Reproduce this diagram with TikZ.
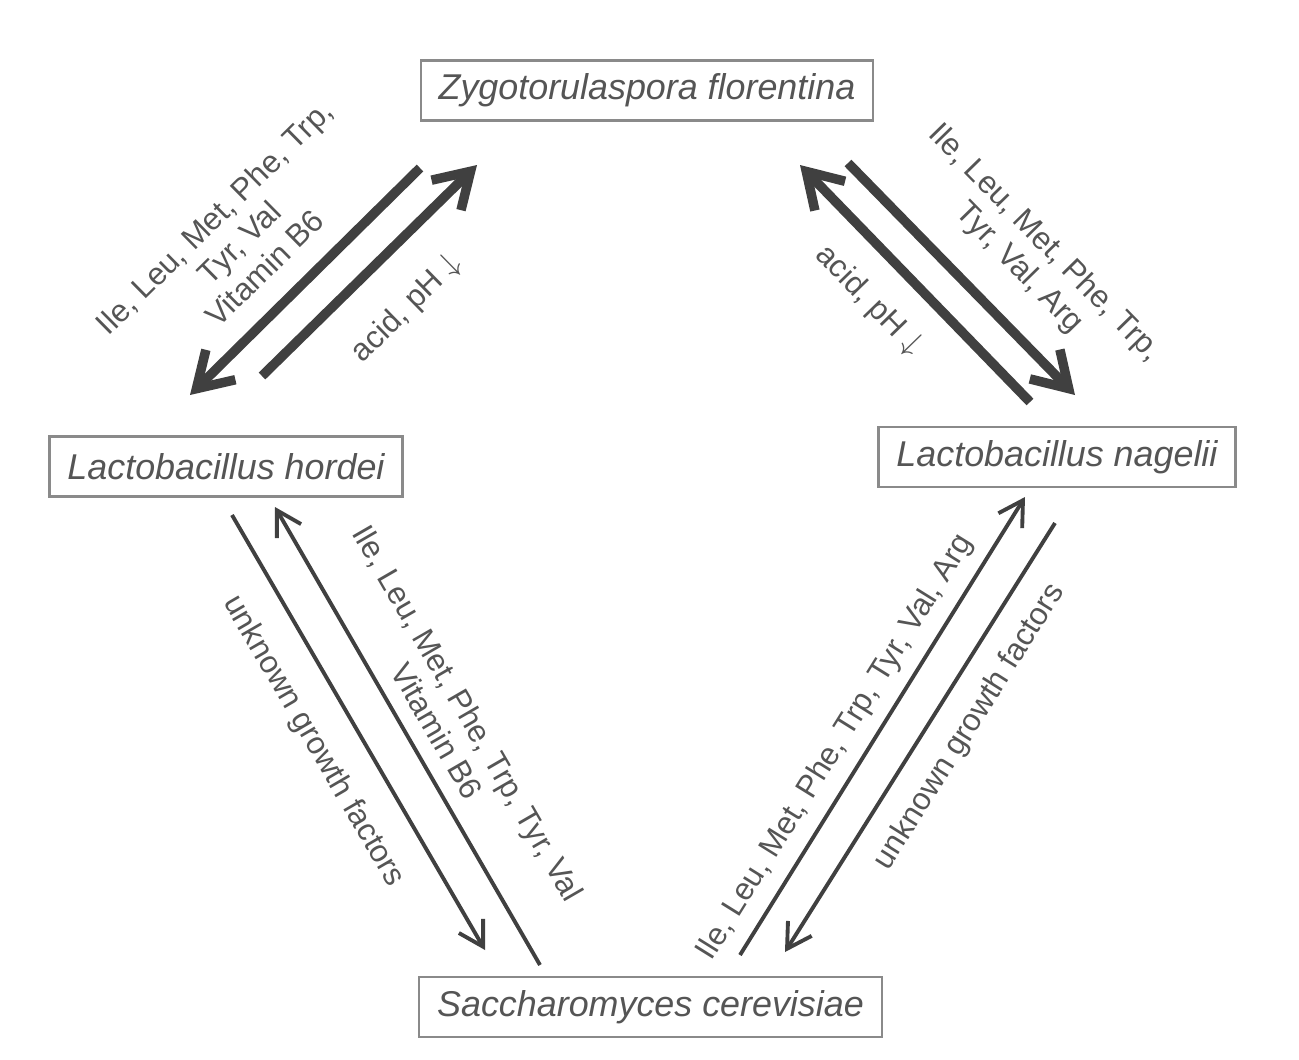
\documentclass[tikz,border=0pt]{standalone}
\usepackage{fontspec}
\setmainfont{Liberation Sans}
\usepackage{tikz}
\usetikzlibrary{arrows.meta}
\definecolor{arrgray}{HTML}{404040}
\definecolor{boxgray}{HTML}{8A8A8A}
\definecolor{txtgray}{HTML}{555555}

\begin{document}
\begin{tikzpicture}[x=0.01cm,y=-0.01cm,
  species/.style={draw=boxgray, line width=0.6pt, minimum height=0.6cm,
    inner xsep=0.18cm, text=txtgray, font=\fontsize{10.2}{12}\selectfont\itshape},
  bigarr/.style={draw=arrgray, line width=2.7pt,
    -{Straight Barb[length=0.34cm,width=0.42cm]}},
  thinarr/.style={draw=arrgray, line width=1.1pt,
    -{Straight Barb[length=0.24cm,width=0.28cm]}},
  lbl/.style={sloped, inner sep=0pt, align=center, text=txtgray,
    font=\fontsize{8.9}{10.2}\selectfont}]
\useasboundingbox (0,0) rectangle (1299,1060);
%
\node[species] (zf) at (647,90.5) {Zygotorulaspora florentina};
\node[species] (lh) at (226,466.5) {Lactobacillus hordei};
\node[species] (ln) at (1057,457) {Lactobacillus nagelii};
\node[species] (sc) at (650.5,1007) {Saccharomyces cerevisiae};
%
\coordinate (zh1) at (420,168);  \coordinate (zh2) at (190,395);
\coordinate (hz1) at (262,376);  \coordinate (hz2) at (477,165);
\coordinate (nz1) at (1030,402); \coordinate (nz2) at (800,165);
\coordinate (zn1) at (848,163);  \coordinate (zn2) at (1075,395);
\coordinate (hs1) at (232,515);  \coordinate (hs2) at (485,950);
\coordinate (sh1) at (540,965);  \coordinate (sh2) at (275,507);
\coordinate (sn1) at (740,955);  \coordinate (sn2) at (1025,497);
\coordinate (ns1) at (1055,523); \coordinate (ns2) at (785,952);

\draw[bigarr] (zh1) -- (zh2) node[lbl, pos=0.56, above=0.22cm]
  {Ile, Leu, Met, Phe, Trp,\\Tyr, Val\\Vitamin B6};
\draw[bigarr] (hz1) -- (hz2) node[lbl, pos=0.5, below=0.34cm] {acid, pH $\downarrow$};
\draw[bigarr] (nz1) -- (nz2) node[lbl, pos=0.56, below=0.26cm] {acid, pH $\downarrow$};
\draw[bigarr] (zn1) -- (zn2) node[lbl, pos=0.6, above=0.29cm]
  {Ile, Leu, Met, Phe, Trp,\\Tyr, Val, Arg};

\draw[thinarr] (hs1) -- (hs2) node[lbl, pos=0.47, below=0.27cm] {unknown growth factors};
\draw[thinarr] (sh1) -- (sh2) node[lbl, pos=0.48, above=0.15cm]
  {Ile, Leu, Met, Phe, Trp, Tyr, Val\\Vitamin B6};
\draw[thinarr] (sn1) -- (sn2) node[lbl, pos=0.42, above=0.12cm]
  {Ile, Leu, Met, Phe, Trp, Tyr, Val, Arg};
\draw[thinarr] (ns1) -- (ns2) node[lbl, pos=0.43, below=0.2cm] {unknown growth factors};
\end{tikzpicture}
\end{document}
